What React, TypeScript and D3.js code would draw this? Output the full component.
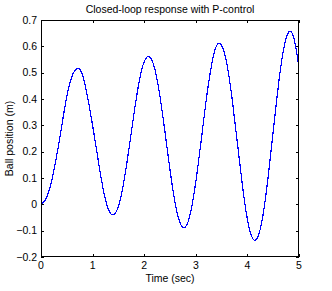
import React from "react";
import * as d3 from "d3";

const timeValues: number[] = [
  0.0, 0.1, 0.2, 0.3, 0.4, 0.5, 0.6, 0.7, 0.8, 0.9,
  1.0, 1.1, 1.2, 1.3, 1.4, 1.5, 1.6, 1.7, 1.8, 1.9,
  2.0, 2.1, 2.2, 2.3, 2.4, 2.5, 2.6, 2.7, 2.8, 2.9,
  3.0, 3.1, 3.2, 3.3, 3.4, 3.5, 3.6, 3.7, 3.8, 3.9,
  4.0, 4.1, 4.2, 4.3, 4.4, 4.5, 4.6, 4.7, 4.8, 4.9, 5.0,
];

const ballPosition: number[] = [
  0.0, 0.022, 0.084, 0.18, 0.295, 0.41, 0.486, 0.516, 0.494, 0.41,
  0.3, 0.178, 0.063, -0.016, -0.04, -0.008, 0.08, 0.205, 0.342, 0.463,
  0.542, 0.56, 0.518, 0.417, 0.279, 0.131, 0.005, -0.073, -0.086, -0.03,
  0.085, 0.236, 0.393, 0.523, 0.602, 0.604, 0.536, 0.407, 0.243, 0.077,
  -0.057, -0.129, -0.125, -0.043, 0.102, 0.278, 0.451, 0.587, 0.654, 0.632, 0.52,
];

const xTicks: number[] = [0, 1, 2, 3, 4, 5];
const yTicks: number[] = [-0.2, -0.1, 0, 0.1, 0.2, 0.3, 0.4, 0.5, 0.6, 0.7];

const titleText = "Closed-loop response with P-control";
const xLabelText = "Time (sec)";
const yLabelText = "Ball position (m)";

const W = 332;
const H = 291;
const L = 41;
const R = 299;
const T = 20;
const B = 257;
const TICK = 3;
const FONT = "Helvetica, Arial, 'Liberation Sans', sans-serif";

function fmtY(v: number): string {
  const r = Math.round(v * 10) / 10;
  if (r === 0) return "0";
  const s = Math.abs(r).toString();
  return r < 0 ? "\u2212" + s : s;
}

export default function App() {
  const x = d3.scaleLinear().domain([0, 5]).range([L, R]);
  const y = d3.scaleLinear().domain([-0.2, 0.7]).range([B, T]);
  const pts: [number, number][] = timeValues.map((t, i) => [t, ballPosition[i]]);
  const line = d3
    .line<[number, number]>()
    .x((d) => x(d[0]))
    .y((d) => y(d[1]))
    .curve(d3.curveNatural);
  const path = line(pts) || "";

  return (
    <svg
      width={W}
      height={H}
      style={{ position: "fixed", left: 0, top: 0, background: "#fff" }}
      fontFamily={FONT}
    >
      <rect x={0} y={0} width={W} height={H} fill="#fff" />
      <defs>
        <clipPath id="plotClip">
          <rect x={L} y={T} width={R - L} height={B - T} />
        </clipPath>
      </defs>
      <path
        d={path}
        fill="none"
        stroke="#0000ff"
        strokeWidth={1.2}
        shapeRendering="crispEdges"
        clipPath="url(#plotClip)"
      />
      <rect
        x={L + 0.5}
        y={T + 0.5}
        width={R - L - 1}
        height={B - T - 1}
        fill="none"
        stroke="#000"
        strokeWidth={1}
        shapeRendering="crispEdges"
      />
      {xTicks.map((t) => (
        <g key={"xt" + t}>
          <line x1={Math.round(x(t)) + 0.5} x2={Math.round(x(t)) + 0.5} y1={B} y2={B - TICK} stroke="#000" shapeRendering="crispEdges" />
          <line x1={Math.round(x(t)) + 0.5} x2={Math.round(x(t)) + 0.5} y1={T} y2={T + TICK} stroke="#000" shapeRendering="crispEdges" />
          <text x={x(t)} y={269} fontSize={10.5} textAnchor="middle" fill="#000">
            {t}
          </text>
        </g>
      ))}
      {yTicks.map((v) => (
        <g key={"yt" + v}>
          <line x1={L} x2={L + TICK} y1={Math.round(y(v)) + 0.5} y2={Math.round(y(v)) + 0.5} stroke="#000" shapeRendering="crispEdges" />
          <line x1={R} x2={R - TICK} y1={Math.round(y(v)) + 0.5} y2={Math.round(y(v)) + 0.5} stroke="#000" shapeRendering="crispEdges" />
          <text x={37} y={y(v) + 3.8} fontSize={10.5} textAnchor="end" fill="#000">
            {fmtY(v)}
          </text>
        </g>
      ))}
      <text x={(L + R) / 2} y={13} fontSize={10.5} textAnchor="middle" fill="#000">
        {titleText}
      </text>
      <text x={(L + R) / 2} y={282} fontSize={10.5} textAnchor="middle" fill="#000">
        {xLabelText}
      </text>
      <text
        transform={`translate(13, ${(T + B) / 2}) rotate(-90)`}
        fontSize={10.5}
        textAnchor="middle"
        fill="#000"
      >
        {yLabelText}
      </text>
    </svg>
  );
}
